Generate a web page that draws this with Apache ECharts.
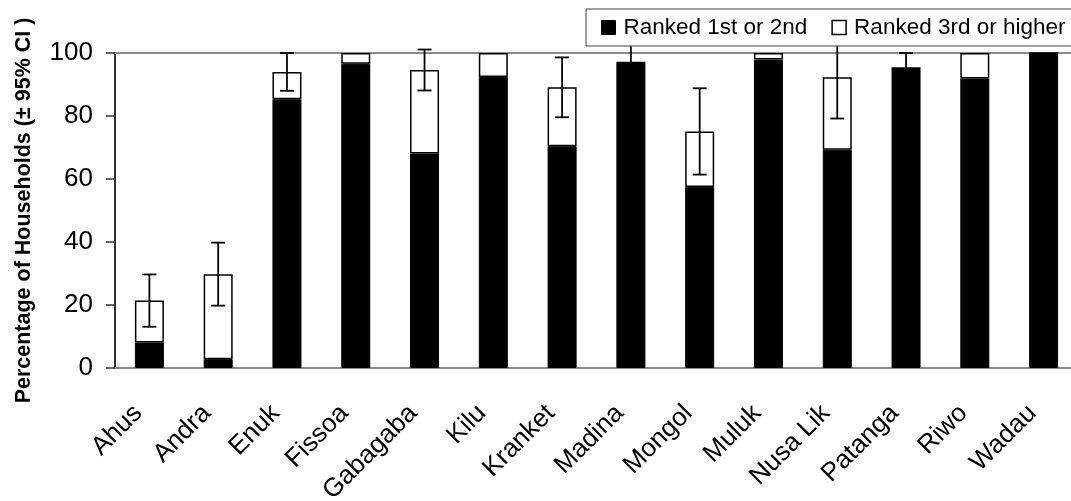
<!DOCTYPE html>
<html>
<head>
<meta charset="utf-8">
<script src="https://cdn.jsdelivr.net/npm/echarts@6/dist/echarts.min.js"></script>
<style>
  html, body { margin: 0; padding: 0; background: #fff; }
  #chart { width: 1071px; height: 501px; }
</style>
</head>
<body>
<div id="chart"></div>
<script>
// Villages surveyed
const categories = ['Ahus', 'Andra', 'Enuk', 'Fissoa', 'Gabagaba', 'Kilu', 'Kranket',
  'Madina', 'Mongol', 'Muluk', 'Nusa Lik', 'Patanga', 'Riwo', 'Wadau'];

// Percentage of households ranking it 1st or 2nd
const rankedFirstSecond = [8.1, 2.8, 85.3, 96.6, 68.1, 92.4, 70.4, 97.0, 57.5, 97.9, 69.3, 95.2, 91.9, 100];

// Additional percentage ranking it 3rd or higher (stacked on top)
const rankedThirdHigher = [13.3, 27.0, 8.7, 3.4, 26.5, 7.6, 18.7, 0, 17.6, 2.1, 23.0, 0, 8.1, 0];

// Half-width of the 95% confidence interval around the stacked total
const ciHalfWidth = [8.3, 10.0, 6.0, 0, 6.5, 0, 9.5, 6.0, 13.7, 0, 13.1, 4.8, 0, 0];

const yTicks = [0, 20, 40, 60, 80, 100];

const FONT = '"Liberation Sans", Arial, sans-serif';

const totals = rankedFirstSecond.map((v, i) => v + rankedThirdHigher[i]);
const errorData = categories
  .map((c, i) => [i, totals[i] - ciHalfWidth[i], totals[i] + ciHalfWidth[i], ciHalfWidth[i]])
  .filter(d => d[3] > 0);

const chart = echarts.init(document.getElementById('chart'), null, { renderer: 'canvas' });

chart.setOption({
  animation: false,
  backgroundColor: '#ffffff',
  grid: { left: 115, top: 53, width: 963, height: 315, outerBoundsMode: 'none', containLabel: false },
  legend: {
    left: 586,
    top: 9,
    width: 600,
    orient: 'horizontal',
    backgroundColor: '#ffffff',
    borderColor: '#404040',
    borderWidth: 1,
    padding: [7, 40, 7, 15],
    itemGap: 24,
    itemWidth: 14,
    itemHeight: 14,
    textStyle: { fontFamily: FONT, fontSize: 22.5, color: '#000', padding: [0, 0, 0, 3] },
    data: [
      { name: 'Ranked 1st or 2nd', icon: 'rect', itemStyle: { color: '#000', borderColor: '#000', borderWidth: 1 } },
      { name: 'Ranked 3rd or higher', icon: 'rect', itemStyle: { color: '#fff', borderColor: '#000', borderWidth: 1.5 } }
    ]
  },
  xAxis: [
    {
      type: 'category',
      data: categories,
      position: 'bottom',
      axisLine: { show: true, lineStyle: { color: '#8a8a8a', width: 2 } },
      axisTick: { show: false },
      axisLabel: {
        rotate: 45,
        interval: 0,
        margin: 30,
        padding: [0, 16, 0, 0],
        fontFamily: FONT,
        fontSize: 26,
        color: '#000'
      },
      splitLine: { show: false }
    },
    {
      type: 'category',
      data: categories,
      position: 'top',
      axisLine: { show: true, lineStyle: { color: '#8a8a8a', width: 2 } },
      axisTick: { show: false },
      axisLabel: { show: false },
      splitLine: { show: false }
    }
  ],
  yAxis: {
    type: 'value',
    min: yTicks[0],
    max: yTicks[yTicks.length - 1],
    interval: yTicks[1] - yTicks[0],
    name: 'Percentage of Households (± 95% CI )',
    nameLocation: 'middle',
    nameRotate: 90,
    nameGap: 80,
    nameTextStyle: { fontFamily: FONT, fontSize: 21.5, fontWeight: 'bold', color: '#000' },
    axisLine: { show: true, lineStyle: { color: '#333', width: 2 } },
    axisTick: { show: true, inside: false, length: 9, lineStyle: { color: '#333', width: 1.5 } },
    axisLabel: { margin: 22, fontFamily: FONT, fontSize: 26, color: '#000' },
    splitLine: { show: false }
  },
  series: [
    {
      name: 'Ranked 1st or 2nd',
      type: 'bar',
      stack: 'households',
      barWidth: 29,
      data: rankedFirstSecond,
      itemStyle: { color: '#000', borderColor: '#000', borderWidth: 1 }
    },
    {
      name: 'Ranked 3rd or higher',
      type: 'bar',
      stack: 'households',
      barWidth: 29,
      data: rankedThirdHigher,
      itemStyle: { color: '#fff', borderColor: '#000', borderWidth: 1.5 }
    },
    {
      name: 'CI',
      type: 'custom',
      clip: false,
      z: 3,
      data: errorData,
      renderItem: function (params, api) {
        const x = api.value(0);
        const lo = api.coord([x, api.value(1)]);
        const hi = api.coord([x, api.value(2)]);
        const cap = 7;
        const style = { stroke: '#000', lineWidth: 1.8 };
        return {
          type: 'group',
          children: [
            { type: 'line', shape: { x1: lo[0], y1: lo[1], x2: hi[0], y2: hi[1] }, style: style },
            { type: 'line', shape: { x1: hi[0] - cap, y1: hi[1], x2: hi[0] + cap, y2: hi[1] }, style: style },
            { type: 'line', shape: { x1: lo[0] - cap, y1: lo[1], x2: lo[0] + cap, y2: lo[1] }, style: style }
          ]
        };
      }
    }
  ]
});
</script>
</body>
</html>
